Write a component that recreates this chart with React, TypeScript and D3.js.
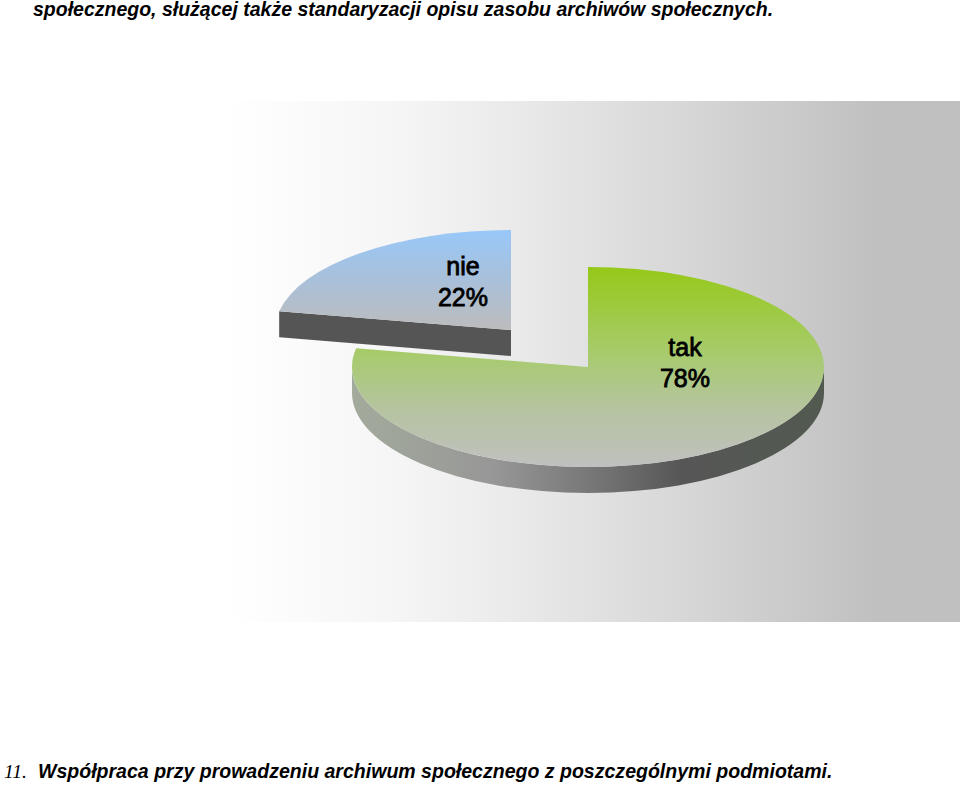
import React, { useRef, useEffect } from "react";
import * as d3 from "d3";

const categories = ["tak", "nie"];
const percents = [78, 22];
const headerLine = "społecznego, służącej także standaryzacji opisu zasobu archiwów społecznych.";
const footerNumber = "11.";
const footerLine = "Współpraca przy prowadzeniu archiwum społecznego z poszczególnymi podmiotami.";

const App: React.FC = () => {
  const chartRef = useRef<SVGSVGElement>(null);

  useEffect(() => {
    if (!chartRef.current) return;
    const svg = d3.select(chartRef.current);
    svg.selectAll("*").remove();

    const rx = 236;
    const ry = 100;
    const depth = 26;
    const centers: Record<string, [number, number]> = {
      tak: [588, 367],
      nie: [511, 330],
    };

    const defs = svg.append("defs");
    const gradient = (
      id: string,
      stops: [number, string][],
      horizontal = false
    ) => {
      const g = defs
        .append("linearGradient")
        .attr("id", id)
        .attr("x1", 0)
        .attr("y1", 0)
        .attr("x2", horizontal ? 1 : 0)
        .attr("y2", horizontal ? 0 : 1);
      stops.forEach(([o, c]) =>
        g.append("stop").attr("offset", o).attr("stop-color", c)
      );
    };
    gradient("bg", [[0, "#ffffff"], [0.05, "#fdfdfd"], [0.24, "#f5f5f5"], [0.38, "#ebebeb"], [0.635, "#d6d6d6"], [0.83, "#c5c5c5"], [0.89, "#c0c0c0"], [1, "#c0c0c0"]], true);
    gradient("topTak", [[0, "#95c918"], [0.45, "#a8cb70"], [0.7, "#b5c49e"], [1, "#c0c0c0"]]);
    gradient("topNie", [[0, "#98c8f8"], [0.5, "#a9c0da"], [1, "#bcbcbc"]]);
    gradient("wallTak", [[0, "#a3ab9c"], [0.3, "#979797"], [0.52, "#757575"], [0.7, "#565656"], [1, "#525a50"]], true);

    // backdrop
    svg.append("rect")
      .attr("x", 225)
      .attr("y", 101)
      .attr("width", 735)
      .attr("height", 521)
      .attr("fill", "url(#bg)");

    const pie = d3.pie<number>().sort(null);
    const arcs = pie(percents);
    const arc = d3.arc<d3.PieArcDatum<number>>().innerRadius(0).outerRadius(rx);
    const squash = ry / rx;

    arcs.forEach((d, i) => {
      const name = categories[i];
      const [cx, cy] = centers[name];
      const g = svg.append("g").attr("transform", `translate(${cx},${cy})`);

      // side wall first, then the top face over it
      if (name === "tak") {
        const wall = `M${-rx},0A${rx},${ry} 0 0 0 ${rx},0L${rx},${depth}A${rx},${ry} 0 0 1 ${-rx},${depth}Z`;
        g.append("path").attr("d", wall).attr("fill", "url(#wallTak)");
      } else {
        const px = rx * Math.sin(d.startAngle);
        const py = -ry * Math.cos(d.startAngle);
        const wall = d3.line()([
          [px, py],
          [0, 0],
          [0, depth],
          [px, py + depth],
        ]);
        g.append("path").attr("d", wall + "Z").attr("fill", "#555555");
      }

      g.append("path")
        .attr("transform", `scale(1,${squash})`)
        .attr("d", arc(d))
        .attr("fill", name === "tak" ? "url(#topTak)" : "url(#topNie)");
    });

    // slice labels
    const labelPos: Record<string, [number, number]> = {
      tak: [685, 356],
      nie: [463, 275],
    };
    arcs.forEach((d, i) => {
      const name = categories[i];
      const [x, y] = labelPos[name];
      const t = svg.append("text")
        .attr("text-anchor", "middle")
        .attr("font-family", "'Liberation Sans', Arial, sans-serif")
        .attr("font-size", 25)
        .attr("stroke", "#000")
        .attr("stroke-width", 0.8)
        .attr("fill", "#000");
      t.append("tspan").attr("x", x).attr("y", y).text(name);
      t.append("tspan").attr("x", x).attr("y", y + 31).text(`${d.data}%`);
    });

    const boldItalic = (x: number, y: number, s: string, size: number) =>
      svg.append("text")
        .attr("x", x)
        .attr("y", y)
        .attr("font-family", "'Liberation Sans', Arial, sans-serif")
        .attr("font-weight", "bold")
        .attr("font-style", "italic")
        .attr("font-size", size)
        .attr("fill", "#000")
        .text(s);

    boldItalic(33, 16, headerLine, 19.5);
    boldItalic(38, 778, footerLine, 19.54);
    svg.append("text")
      .attr("x", 4)
      .attr("y", 778)
      .attr("font-family", "'Liberation Serif', 'Times New Roman', serif")
      .attr("font-style", "italic")
      .attr("font-size", 19.5)
      .attr("fill", "#000")
      .text(footerNumber);
  }, []);

  return (
    <svg
      ref={chartRef}
      width="960"
      height="785"
      style={{ position: "absolute", left: 0, top: 0, display: "block", background: "#fff" }}
    ></svg>
  );
};

export default App;
